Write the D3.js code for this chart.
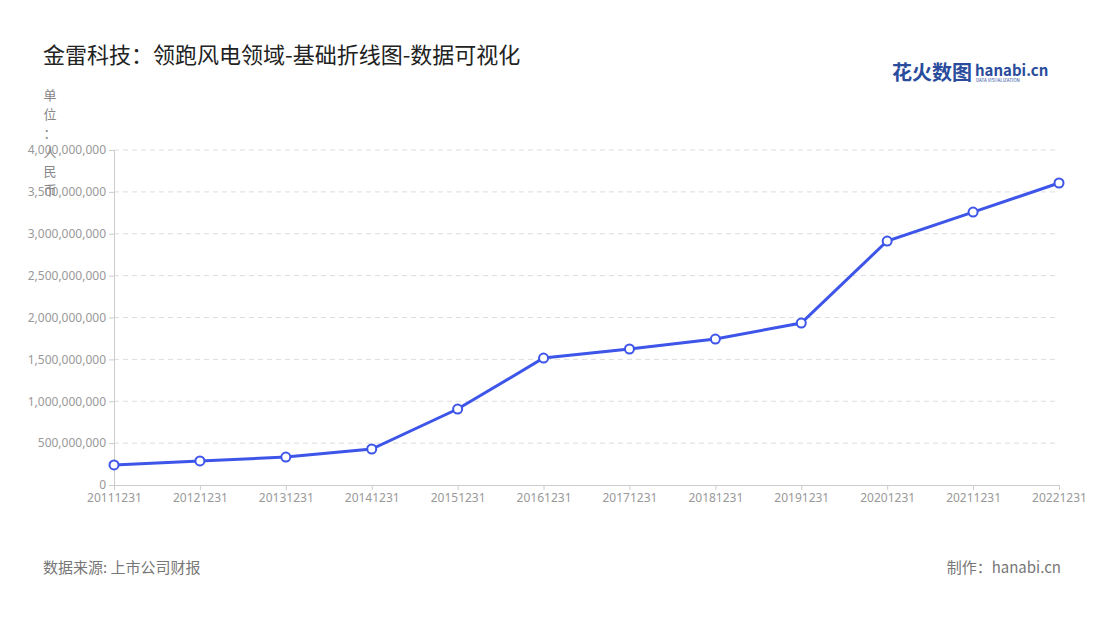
<!DOCTYPE html>
<html><head><meta charset="utf-8">
<script src="https://cdn.jsdelivr.net/npm/d3@7"></script>
<style>body{margin:0;background:#fff;font-family:"Noto Sans CJK SC","Noto Sans",sans-serif;}</style>
</head><body>
<svg width="1100" height="620"></svg>
<script>
// data
const years = ["20111231","20121231","20131231","20141231","20151231","20161231","20171231","20181231","20191231","20201231","20211231","20221231"];
const revenue = [239e6, 287e6, 334e6, 430e6, 907e6, 1516e6, 1624e6, 1743e6, 1934e6, 2913e6, 3259e6, 3606e6];
const yTicks = [0, 5e8, 1e9, 1.5e9, 2e9, 2.5e9, 3e9, 3.5e9, 4e9];
const unitChars = ["单","位","：","人","民","币"];

const svg = d3.select("svg");
const mLeft = 114, mRight = 1059, mTop = 150, mBottom = 485;

const x = d3.scalePoint().domain(years).range([mLeft, mRight]);
const y = d3.scaleLinear().domain([0, 4e9]).range([mBottom, mTop]);

// title
svg.append("text").attr("x", 43).attr("y", 63).attr("font-size", 22).attr("fill", "#222")
    .text("金雷科技：领跑风电领域-基础折线图-数据可视化");

// logo
svg.append("text").attr("x", 892).attr("y", 80).attr("font-size", 20).attr("font-weight", "bold").attr("fill", "#2a4c9c").text("花火数图");
svg.append("text").attr("x", 975).attr("y", 76).attr("font-size", 15).attr("font-weight", "bold").attr("fill", "#2a4c9c").text("hanabi.cn");
svg.append("text").attr("x", 976).attr("y", 82).attr("font-size", 4.5).attr("fill", "#2a4c9c").text("DATA VISUALIZATION");

// grid
svg.append("g").selectAll("line").data(yTicks.slice(1)).enter().append("line")
    .attr("x1", mLeft).attr("x2", mRight).attr("y1", d => y(d)).attr("y2", d => y(d))
    .attr("stroke", "#ddd").attr("stroke-dasharray", "5,4");

// y axis
const yAxis = svg.append("g").attr("transform", `translate(${mLeft},0)`)
    .call(d3.axisLeft(y).tickValues(yTicks).tickFormat(d3.format(",")).tickSize(5));
yAxis.select(".domain").attr("stroke", "#ccc");
yAxis.selectAll(".tick line").attr("stroke", "#ccc");
yAxis.selectAll("text").attr("fill", "#999").attr("font-size", 12).attr("font-family", "Noto Sans");

// unit label (vertical)
svg.append("g").selectAll("text").data(unitChars).enter().append("text")
    .attr("x", 50).attr("y", (d, i) => 100 + i * 19).attr("text-anchor", "middle")
    .attr("font-size", 13).attr("fill", "#888").text(d => d);

// x axis
const xAxis = svg.append("g").attr("transform", `translate(0,${mBottom})`)
    .call(d3.axisBottom(x).tickSize(5));
xAxis.select(".domain").attr("stroke", "#ccc");
xAxis.selectAll(".tick line").attr("stroke", "#ccc");
xAxis.selectAll("text").attr("fill", "#999").attr("font-size", 12).attr("font-family", "Noto Sans");

// line
const pts = years.map((d, i) => [x(d), y(revenue[i])]);
svg.append("path").attr("d", d3.line()(pts)).attr("fill", "none")
    .attr("stroke", "#3d55e8").attr("stroke-width", 3);
svg.append("g").selectAll("circle").data(pts).enter().append("circle")
    .attr("cx", d => d[0]).attr("cy", d => d[1]).attr("r", 4.5)
    .attr("fill", "#fff").attr("stroke", "#3d55e8").attr("stroke-width", 2);

// footer
svg.append("text").attr("x", 43).attr("y", 573).attr("font-size", 15).attr("fill", "#777").text("数据来源: 上市公司财报");
svg.append("text").attr("x", 1061).attr("y", 573).attr("text-anchor", "end").attr("font-size", 15).attr("fill", "#777").text("制作：hanabi.cn");
</script>
</body></html>
